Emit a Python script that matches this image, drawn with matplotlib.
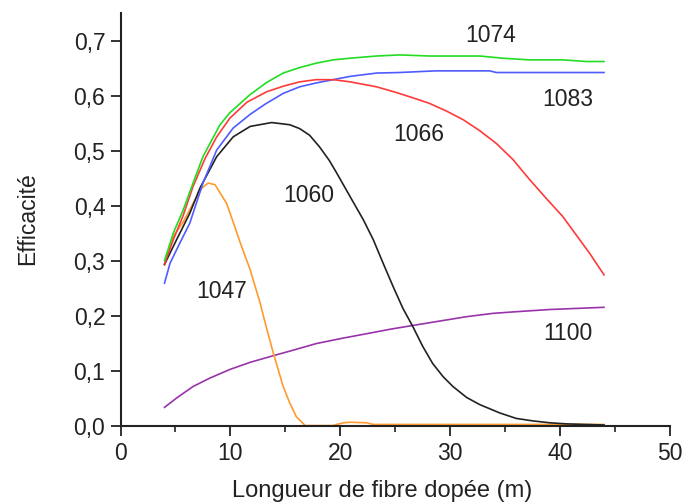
import matplotlib
matplotlib.use("Agg")
import matplotlib.pyplot as plt
from matplotlib.ticker import MultipleLocator, FuncFormatter

plt.rcParams['font.family'] = ['Liberation Sans', 'DejaVu Sans']

# Data (x: fibre length in m, y: efficiency)
x_1074 = [4.0, 4.8, 5.7, 6.6, 7.5, 8.3, 9.05, 9.95, 10.9, 11.8, 13.3, 14.8, 16.3, 17.8, 19.35,
          20.9, 23.3, 25.4, 28.1, 32.7, 34.8, 37.2, 40.25, 42.4, 44.0]
y_1074 = [0.300, 0.350, 0.392, 0.441, 0.489, 0.519, 0.547, 0.569, 0.586, 0.602, 0.624, 0.641, 0.651, 0.659, 0.665,
          0.668, 0.672, 0.674, 0.672, 0.672, 0.668, 0.665, 0.665, 0.662, 0.662]

x_1083 = [4.0, 4.5, 5.4, 6.3, 7.5, 8.75, 10.25, 11.8, 13.2, 14.8, 16.3, 17.8, 19.35, 20.9, 23.3,
          25.4, 28.7, 33.6, 34.2, 44.0]
y_1083 = [0.259, 0.295, 0.332, 0.368, 0.441, 0.501, 0.541, 0.566, 0.585, 0.604, 0.616, 0.623, 0.629, 0.635, 0.641,
          0.642, 0.645, 0.645, 0.642, 0.642]

x_1066 = [4.0, 4.8, 5.7, 6.6, 7.7, 8.75, 9.95, 11.5, 13.3, 14.8, 16.3, 17.8, 19.35, 20.9, 23.3, 25.2,
          26.6, 28.1, 29.65, 31.2, 32.7, 34.2, 35.7, 37.2, 38.7, 40.25, 42.7, 44.0]
y_1066 = [0.294, 0.338, 0.382, 0.435, 0.486, 0.525, 0.559, 0.588, 0.607, 0.617, 0.625, 0.629, 0.629, 0.625, 0.616, 0.605,
          0.596, 0.586, 0.572, 0.556, 0.536, 0.513, 0.484, 0.448, 0.414, 0.380, 0.313, 0.274]

x_1060 = [4.0, 5.1, 6.3, 7.23, 8.75, 10.25, 11.8, 13.75, 15.4, 16.3, 17.2, 18.1, 19.0, 19.65, 20.9, 22.1,
          23.0, 23.9, 24.8, 25.7, 26.6, 27.5, 28.4, 29.35, 30.25, 31.5, 32.7, 34.5, 36.0, 37.5,
          39.05, 40.6, 44.0]
y_1060 = [0.293, 0.338, 0.386, 0.432, 0.489, 0.525, 0.544, 0.551, 0.547, 0.540, 0.528, 0.507, 0.482, 0.460, 0.416, 0.374,
          0.338, 0.295, 0.253, 0.213, 0.180, 0.144, 0.113, 0.089, 0.071, 0.051, 0.038, 0.023, 0.013, 0.0085,
          0.005, 0.003, 0.001]

x_1047 = [4.0, 4.8, 5.7, 6.6, 7.4, 7.98, 8.6, 9.65, 10.25, 10.9, 11.8, 12.7, 13.3, 13.9, 14.8, 15.4,
          16.0, 16.8, 19.3, 20.3, 20.9, 22.4, 23.0, 27.0, 44.0]
y_1047 = [0.292, 0.344, 0.370, 0.404, 0.432, 0.441, 0.438, 0.404, 0.370, 0.332, 0.283, 0.223, 0.176, 0.132, 0.071, 0.041,
          0.016, 0.000, 0.000, 0.005, 0.006, 0.005, 0.002, 0.002, 0.002]

x_1100 = [4.0, 5.1, 6.6, 8.1, 9.95, 11.8, 13.9, 15.7, 17.8, 20.25, 22.4, 24.5, 26.6, 29.05, 31.5,
          33.9, 36.0, 39.05, 41.5, 44.0]
y_1100 = [0.033, 0.050, 0.071, 0.086, 0.102, 0.115, 0.127, 0.137, 0.149, 0.159, 0.167, 0.175, 0.182, 0.190, 0.198,
          0.204, 0.207, 0.211, 0.213, 0.215]

labels = ["1074", "1083", "1066", "1060", "1047", "1100"]
label_x = [33.7, 40.7, 27.1, 17.1, 9.2, 40.7]
label_y = [0.710, 0.593, 0.529, 0.419, 0.244, 0.168]

series = [
    (x_1100, y_1100, "#9933aa"),
    (x_1047, y_1047, "#ff9a2e"),
    (x_1060, y_1060, "#222222"),
    (x_1083, y_1083, "#4f5bff"),
    (x_1066, y_1066, "#ff3a3a"),
    (x_1074, y_1074, "#22dd22"),
]

fig = plt.figure(figsize=(6.85, 5.03), dpi=100)
ax = fig.add_axes([0.176, 0.154, 0.802, 0.821])

for xs, ys, c in series:
    ax.plot(xs, ys, color=c, lw=1.2)

for t, lx, ly in zip(labels, label_x, label_y):
    ax.text(lx, ly, t, ha="center", va="center", fontsize=16.5, color="#222222")

ax.set_xlim(0, 50)
ax.set_ylim(0, 0.751)
ax.xaxis.set_major_locator(MultipleLocator(10))
ax.xaxis.set_minor_locator(MultipleLocator(5))
ax.yaxis.set_major_locator(MultipleLocator(0.1))
ax.yaxis.set_major_formatter(FuncFormatter(lambda v, p: f"{v:.1f}".replace(".", ",")))

for s in ["top", "right"]:
    ax.spines[s].set_visible(False)
for s in ["left", "bottom"]:
    ax.spines[s].set_linewidth(1.5)
    ax.spines[s].set_color("#222222")

ax.tick_params(axis="both", which="major", direction="out", length=7, width=1.3,
               labelsize=16.5, colors="#222222")
ax.tick_params(axis="x", which="minor", direction="out", length=4, width=1.2, colors="#222222")
ax.tick_params(axis="x", pad=5)
ax.tick_params(axis="y", pad=4)

ax.set_xlabel("Longueur de fibre dopée (m)", fontsize=17, color="#222222")
ax.xaxis.set_label_coords(0.476, -0.133)
ax.set_ylabel("Efficacité", fontsize=16.5, color="#222222")
ax.yaxis.set_label_coords(-0.149, 0.5)

fig.savefig("out.png", dpi=100)
